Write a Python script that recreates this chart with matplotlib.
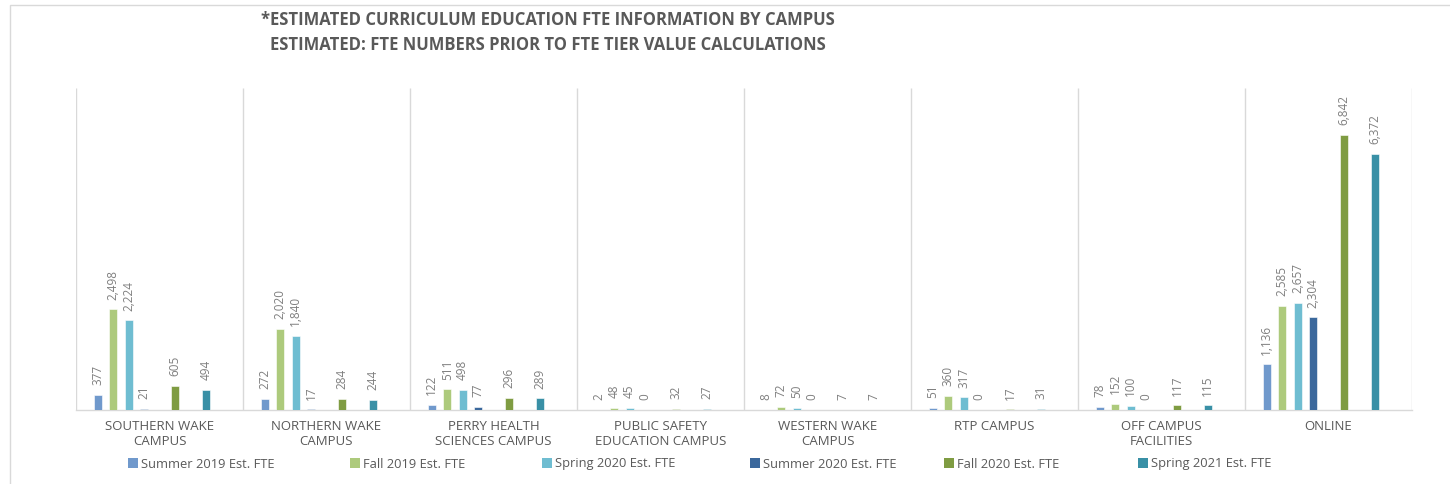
import matplotlib
matplotlib.use("Agg")
import matplotlib.pyplot as plt
from matplotlib.patches import Rectangle, Patch

plt.rcParams['font.family'] = ['Open Sans', 'DejaVu Sans']

categories = ["SOUTHERN WAKE\nCAMPUS", "NORTHERN WAKE\nCAMPUS", "PERRY HEALTH\nSCIENCES CAMPUS",
              "PUBLIC SAFETY\nEDUCATION CAMPUS", "WESTERN WAKE\nCAMPUS", "RTP CAMPUS",
              "OFF CAMPUS\nFACILITIES", "ONLINE"]
series_names = ["Summer 2019 Est. FTE", "Fall 2019 Est. FTE", "Spring 2020 Est. FTE",
                "Summer 2020 Est. FTE", "Fall 2020 Est. FTE", "Spring 2021 Est. FTE"]
summer_2019 = [377, 272, 122, 2, 8, 51, 78, 1136]
fall_2019 = [2498, 2020, 511, 48, 72, 360, 152, 2585]
spring_2020 = [2224, 1840, 498, 45, 50, 317, 100, 2657]
summer_2020 = [21, 17, 77, 0, 0, 0, 0, 2304]
fall_2020 = [605, 284, 296, 32, 7, 17, 117, 6842]
spring_2021 = [494, 244, 289, 27, 7, 31, 115, 6372]
series = [summer_2019, fall_2019, spring_2020, summer_2020, fall_2020, spring_2021]

colors = ["#7099CC", "#ADCA7C", "#6FBDD1", "#3B689C", "#7F9C42", "#3990A6"]
slots = [0, 1, 2, 3, 5, 7]   # slot positions among 9 slots per group
n_slots = 9
slot_w = 1 / 10.83
bar_w = 0.048

fig = plt.figure(figsize=(14.5, 4.84), dpi=100)
ax = fig.add_axes([76 / 1450, 1 - 410 / 484, (1412 - 76) / 1450, (410 - 88) / 484])

# outer chart border
fig.patches.append(Rectangle((10 / 1450, -0.1), 1.2, 1 - 5 / 484 + 0.1, transform=fig.transFigure,
                             fill=False, edgecolor="#D9D9D9", linewidth=1.0))

ymax = 8000
for s, vals in enumerate(series):
    off = (slots[s] - (n_slots - 1) / 2) * slot_w
    xs = [i + off for i in range(len(categories))]
    ax.bar(xs, vals, width=bar_w, color=colors[s], edgecolor="white", linewidth=0.4, zorder=3)
    for x, v in zip(xs, vals):
        ax.annotate(f"{v:,}", (x, v), xytext=(0, 7), textcoords="offset points",
                    rotation=90, ha="center", va="bottom", fontsize=8.5, color="#7F7F7F")

ax.set_xlim(-0.5, len(categories) - 0.5)
ax.set_ylim(0, ymax)
ax.vlines([i - 0.5 for i in range(len(categories) + 1)], 0, ymax, color="#D9D9D9", linewidth=1.0, zorder=1)
for sp in ["top", "left", "right"]:
    ax.spines[sp].set_visible(False)
ax.spines["bottom"].set_color("#D9D9D9")
ax.spines["bottom"].set_linewidth(1.0)
ax.set_yticks([])
ax.set_xticks(range(len(categories)))
ax.set_xticklabels(categories, fontsize=9.5, color="#595959", linespacing=1.25)
ax.tick_params(axis="x", length=0, pad=7)

fig.text(548 / 1450, 1 - 20 / 484, "*ESTIMATED CURRICULUM EDUCATION FTE INFORMATION BY CAMPUS",
         ha="center", va="center", fontsize=12, fontweight="bold", color="#595959")
fig.text(548 / 1450, 1 - 45 / 484, "ESTIMATED: FTE NUMBERS PRIOR TO FTE TIER VALUE CALCULATIONS",
         ha="center", va="center", fontsize=12, fontweight="bold", color="#595959")

legend_x = [122, 344, 536, 744, 938, 1132]
for name, c, lx in zip(series_names, colors, legend_x):
    fig.legend(handles=[Patch(facecolor=c, edgecolor="none")], labels=[name],
               loc="center left", bbox_to_anchor=(lx / 1450, 1 - 464 / 484),
               frameon=False, fontsize=9.3, handlelength=0.7, handleheight=0.7,
               handletextpad=0.3, borderpad=0, labelcolor="#595959")

fig.savefig("out.png", dpi=100)
